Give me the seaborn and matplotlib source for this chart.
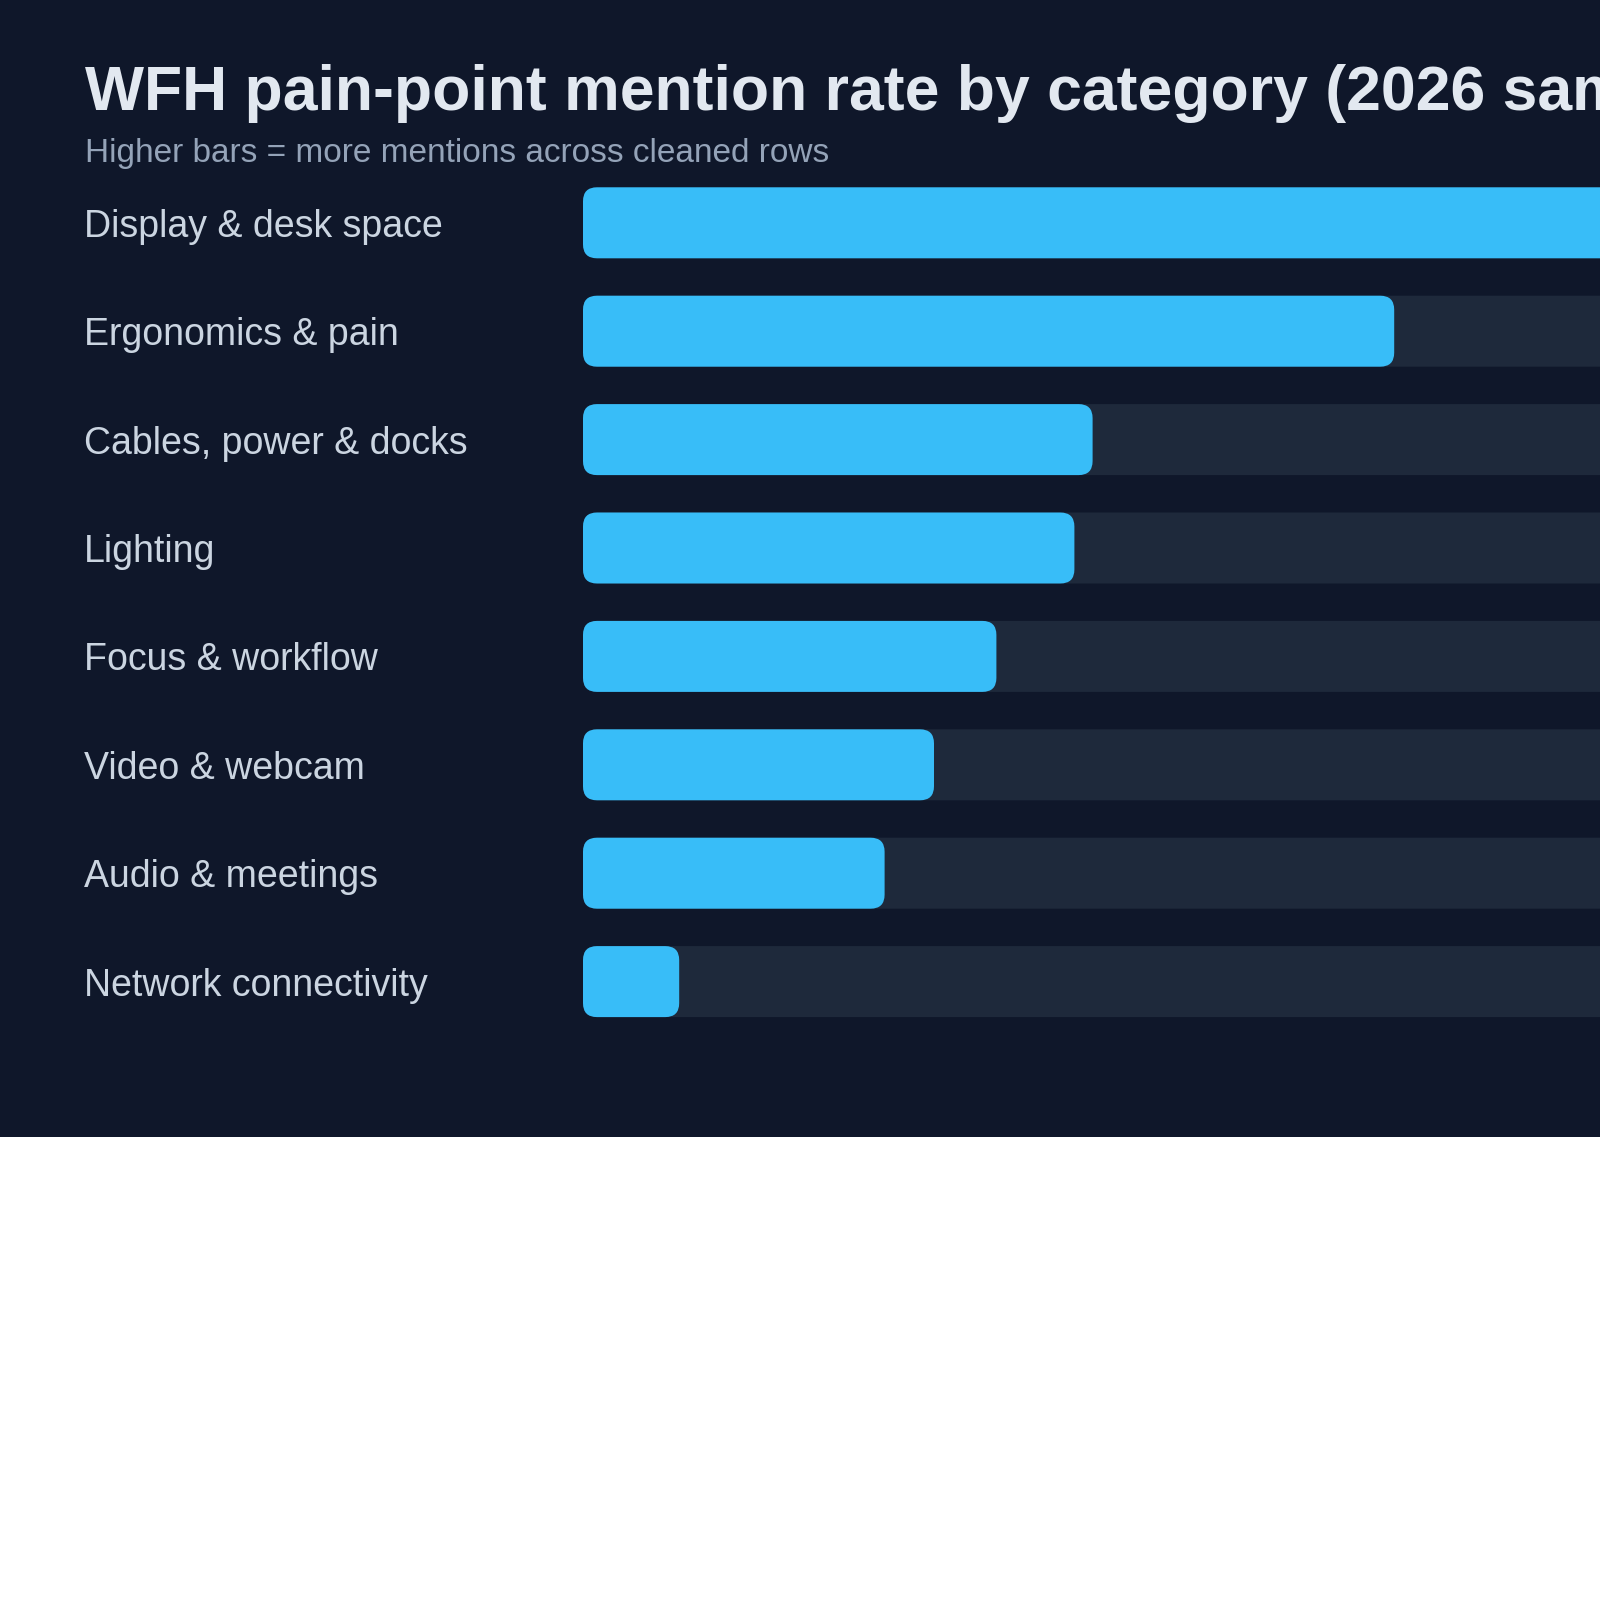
import matplotlib
matplotlib.use("Agg")
from matplotlib import pyplot as plt
from matplotlib.patches import FancyBboxPatch, Rectangle
import seaborn as sns
import pandas as pd

# mention rate (% of cleaned rows)
categories = ['Display & desk space', 'Ergonomics & pain', 'Cables, power & docks', 'Lighting',
              'Focus & workflow', 'Video & webcam', 'Audio & meetings', 'Network connectivity']
rates = [52.0, 31.2, 19.6, 18.9, 15.9, 13.5, 11.6, 3.7]
track_max = 52.0

title = 'WFH pain-point mention rate by category (2026 sample)'
subtitle = 'Higher bars = more mentions across cleaned rows'

BG = '#0f172a'
TRACK = '#1e293b'
BAR = '#38bdf8'
TEXT = '#e2e8f0'
LABEL = '#cbd5e1'
MUTED = '#94a3b8'

df = pd.DataFrame({'category': categories, 'rate': rates})
df['track'] = track_max

sns.set_theme(style='white')
plt.rcParams['font.family'] = ['Liberation Sans', 'DejaVu Sans']

fig = plt.figure(figsize=(16, 16), dpi=100)
fig.patch.set_facecolor('white')
# dark panel covering the top part of the canvas
fig.patches.append(Rectangle((0, 1 - 1137 / 1600), 1, 1137 / 1600, transform=fig.transFigure,
                             facecolor=BG, edgecolor='none', zorder=-5))

# axes: x=0 at 583px, 26px per percentage point, rows 108.4px apart
px_per_unit = 26.0
left = 583 / 1600
width = track_max * px_per_unit / 1600
top_px = 222.8 - 54.2
bot_px = 222.8 + 7 * 108.4 + 54.2
ax = fig.add_axes([left, 1 - bot_px / 1600, width, (bot_px - top_px) / 1600])
ax.set_facecolor('none')
ax.set_zorder(2)

bar_h = 71 / 108.4
sns.barplot(data=df, x='track', y='category', orient='h', color=TRACK, width=bar_h,
            saturation=1, ax=ax)
sns.barplot(data=df, x='rate', y='category', orient='h', color=BAR, width=bar_h,
            saturation=1, ax=ax)

ax.set_xlim(0, track_max)
ax.set_ylim(len(categories) - 0.5, -0.5)

# swap the square bars for rounded ones
r = 14 / px_per_unit
aspect = (1 / 108.4) / (1 / px_per_unit)
for p in list(ax.patches):
    x, y = p.get_x(), p.get_y()
    w, h = p.get_width(), p.get_height()
    fc = p.get_facecolor()
    p.remove()
    ax.add_patch(FancyBboxPatch((x, y), w, h, boxstyle=f'round,pad=0,rounding_size={r}',
                                mutation_aspect=aspect, facecolor=fc, edgecolor='none',
                                clip_on=False))

for s in ax.spines.values():
    s.set_visible(False)
ax.set_xticks([])
ax.set_xlabel('')
ax.set_ylabel('')
ax.tick_params(axis='y', length=0, pad=(583 - 84) * 0.72, labelsize=27, labelcolor=LABEL)
for lbl in ax.get_yticklabels():
    lbl.set_ha('left')
    lbl.set_va('center_baseline')

fig.text(85 / 1600, 1 - 110 / 1600, title, fontsize=45, fontweight='bold', color=TEXT,
         ha='left', va='baseline')
fig.text(85 / 1600, 1 - 162 / 1600, subtitle, fontsize=24, color=MUTED,
         ha='left', va='baseline')

fig.savefig('out.png', dpi=100, facecolor=fig.get_facecolor())
